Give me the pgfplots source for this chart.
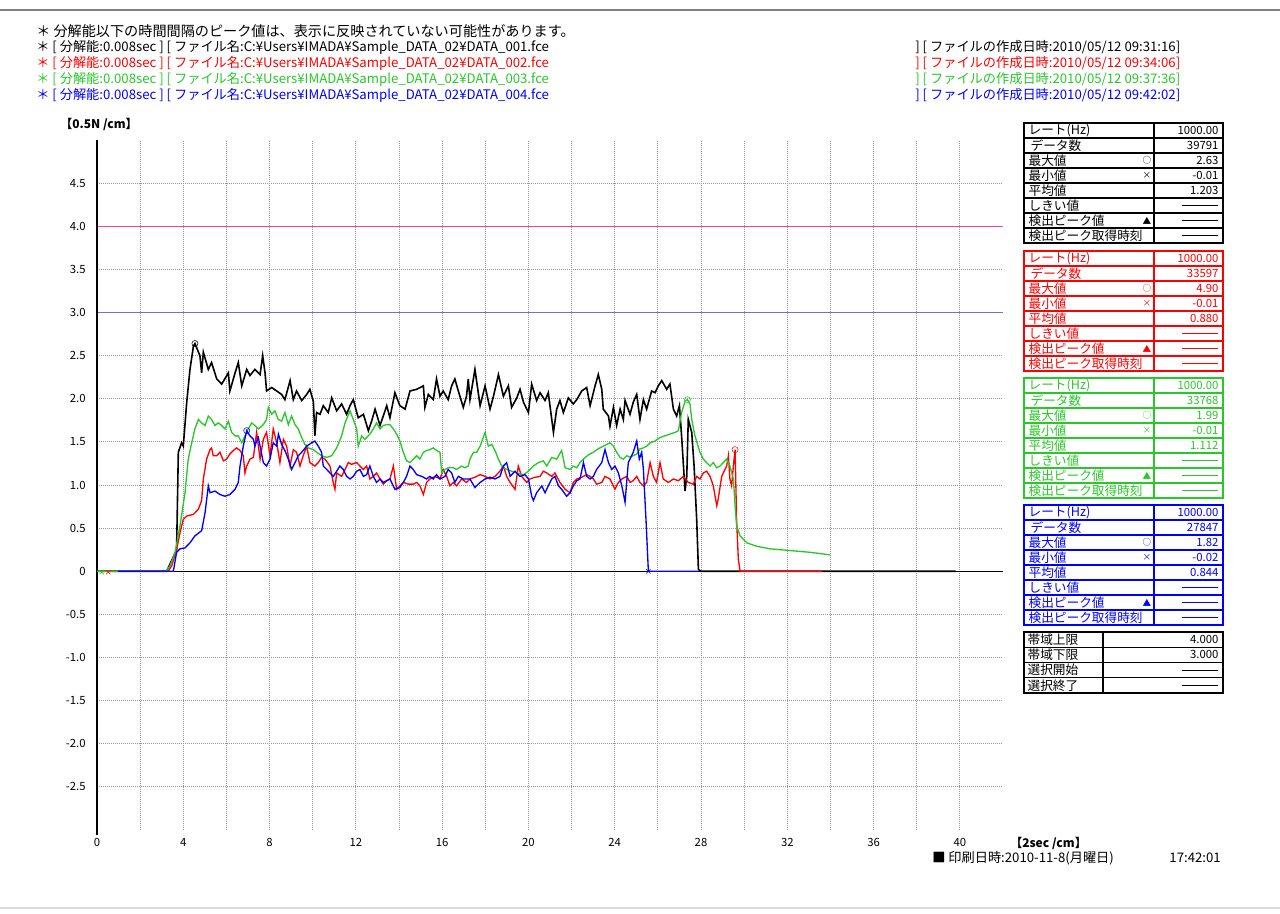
\documentclass[border=0pt]{standalone}
\usepackage{fontspec}
\setmainfont{Noto Sans CJK JP}
\usepackage{pgfplots}
\pgfplotsset{compat=1.18}
\definecolor{cred}{RGB}{255,0,0}
\definecolor{cgreen}{RGB}{40,200,40}
\definecolor{cblue}{RGB}{0,0,255}
\definecolor{bandhi}{RGB}{255,60,170}
\definecolor{bandlo}{RGB}{110,110,220}
\definecolor{gridgray}{RGB}{150,150,150}

\newcommand{\hfont}{\fontsize{9.9pt}{11pt}\selectfont}
\newcommand{\tfont}{\fontsize{9.5pt}{10pt}\selectfont}
\newcommand{\vfont}{\fontsize{8.5pt}{10pt}\selectfont}

% one statistics table: colour, top (px), count, max, min, mean
\newcommand{\datatable}[6]{%
\begin{scope}[draw=#1, text=#1, line width=0.9pt]
  \draw (1024,#2) rectangle (1223,#2+120);
  \foreach \k in {1,...,7} {\draw (1024,#2+15*\k) -- (1223,#2+15*\k);}
  \draw (1154,#2) -- (1154,#2+120);
  \node[tlab] at (1028,#2+7.5) {レート(Hz)};
  \node[tlab] at (1030,#2+22.5) {データ数};
  \node[tlab] at (1028,#2+37.5) {最大値};
  \node[tlab] at (1028,#2+52.5) {最小値};
  \node[tlab] at (1028,#2+67.5) {平均値};
  \node[tlab] at (1028,#2+82.5) {しきい値};
  \node[tlab] at (1028,#2+97.5) {検出ピーク値};
  \node[tlab] at (1028,#2+112.5) {検出ピーク取得時刻};
  \node[sym] at (1147,#2+37.5) {○};
  \node[sym] at (1147,#2+52.5) {×};
  \node[sym] at (1147,#2+97.5) {▲};
  \node[tval] at (1219,#2+7.5) {1000.00};
  \node[tval] at (1219,#2+22.5) {#3};
  \node[tval] at (1219,#2+37.5) {#4};
  \node[tval] at (1219,#2+52.5) {#5};
  \node[tval] at (1219,#2+67.5) {#6};
  \foreach \r in {82.5,97.5,112.5} {\draw[line width=1pt] (1182,#2+\r) -- (1218,#2+\r);}
\end{scope}}

\begin{document}
\begin{tikzpicture}
\begin{scope}[x=0.75pt, y=-0.75pt,
  tlab/.style={anchor=west, inner sep=0pt, font=\tfont},
  tval/.style={anchor=east, inner sep=0pt, font=\vfont},
  sym/.style={inner sep=0pt, font=\fontsize{6.5pt}{7pt}\selectfont}]
  \path[use as bounding box] (0,0) rectangle (1280,913);
  \draw[gray, line width=1.5pt] (0,10) -- (1280,10);
  \draw[gray!30, line width=0.8pt] (0,908) -- (1280,908);

  % header
  \node[anchor=west, inner sep=0pt, font=\fontsize{10.6pt}{12pt}\selectfont] at (36,31) {＊ 分解能以下の時間間隔のピーク値は、表示に反映されていない可能性があります。};
  \foreach \c/\n/\t/\yy in {black/001/09:31:16/47, cred/002/09:34:06/63, cgreen/003/09:37:36/79, cblue/004/09:42:02/95} {
    \node[anchor=west, inner sep=0pt, font=\hfont, text=\c] at (36,\yy) {＊ [ 分解能:0.008sec ] [ ファイル名:C:¥Users¥IMADA¥Sample\_DATA\_02¥DATA\_\n.fce};
    \node[anchor=west, inner sep=0pt, font=\hfont, text=\c] at (915,\yy) {] [ ファイルの作成日時:2010/05/12 \t]};
  }

  % axis unit labels and print date
  \node[anchor=west, inner sep=0pt, font=\fontsize{9pt}{10pt}\selectfont\bfseries] at (60,124) {【0.5N /cm】};
  \node[anchor=west, inner sep=0pt, font=\fontsize{9pt}{10pt}\selectfont\bfseries] at (1010,843) {【2sec /cm】};
  \node[anchor=west, inner sep=0pt, font=\hfont] at (932,858) {■ 印刷日時:2010-11-8(月曜日)};
  \node[anchor=east, inner sep=0pt, font=\hfont] at (1221,858) {17:42:01};

  % statistics tables
  \datatable{black}{123}{39791}{2.63}{-0.01}{1.203}
  \datatable{cred}{251}{33597}{4.90}{-0.01}{0.880}
  \datatable{cgreen}{378}{33768}{1.99}{-0.01}{1.112}
  \datatable{cblue}{505}{27847}{1.82}{-0.02}{0.844}
  \begin{scope}[line width=0.9pt]
    \draw (1024,632) rectangle (1223,693);
    \foreach \k in {1,2,3} {\draw (1024,632+15.25*\k) -- (1223,632+15.25*\k);}
    \draw (1103,632) -- (1103,693);
    \node[tlab] at (1027,639.6) {帯域上限};
    \node[tlab] at (1027,654.9) {帯域下限};
    \node[tlab] at (1027,670.1) {選択開始};
    \node[tlab] at (1027,685.4) {選択終了};
    \node[tval] at (1219,639.6) {4.000};
    \node[tval] at (1219,654.9) {3.000};
    \draw (1182,670.1) -- (1218,670.1);
    \draw (1182,685.4) -- (1218,685.4);
  \end{scope}
\end{scope}

\begin{axis}[
  at={(72.75pt,-622.5pt)}, anchor=south west,
  scale only axis, width=679.5pt, height=517.5pt,
  xmin=0, xmax=42, ymin=-3, ymax=5,
  axis line style={draw=none},
  major tick length=0pt,
  xtick={0,2,...,40},
  xticklabels={0,,4,,8,,12,,16,,20,,24,,28,,32,,36,,40},
  ytick={-2.5,-2,...,4.5},
  yticklabels={-2.5,-2.0,-1.5,-1.0,-0.5,0,0.5,1.0,1.5,2.0,2.5,3.0,3.5,4.0,4.5},
  grid=major,
  major grid style={gridgray, line width=0.6pt, dash pattern=on 0.75pt off 0.75pt},
  /pgf/number format/assume math mode=true,
  ticklabel style={font=\fontsize{8.5pt}{9pt}\selectfont},
  yticklabel style={xshift=-5pt},
  xticklabel style={yshift=-3pt},
  clip=false,
]
% band limits and zero line
\addplot[bandhi, line width=0.8pt] coordinates {(0,4) (42,4)};
\addplot[bandlo, line width=0.8pt] coordinates {(0,3) (42,3)};
\addplot[black, line width=1pt] coordinates {(0,-3.06) (0,5)};
\addplot[black, line width=1pt] coordinates {(0,0) (42,0)};

% DATA_001
\addplot[black, line width=1.2pt] coordinates {
(0,0) (3.23,0) (3.69,0.25) (3.77,1.38) (3.92,1.49) (4.0,1.45) (4.16,1.96) (4.31,2.34) (4.47,2.61) (4.54,2.64)
(4.77,2.50) (4.85,2.30) (4.93,2.54) (5.16,2.34) (5.31,2.42) (5.55,2.23) (5.78,2.17) (6.09,2.30) (6.16,2.09)
(6.40,2.30) (6.55,2.42) (6.71,2.15) (6.94,2.34) (7.09,2.27) (7.32,2.34) (7.56,2.28) (7.68,2.50) (7.79,2.30)
(7.86,2.09) (8.10,2.13) (8.33,2.09) (8.56,2.05) (8.71,1.99) (8.95,2.21) (9.10,1.99) (9.25,2.09) (9.49,1.98)
(9.72,2.05) (9.87,2.11) (10.03,1.97) (10.10,1.57) (10.18,1.84) (10.34,1.82) (10.49,1.92) (10.72,1.84)
(10.88,2.01) (11.11,1.86) (11.34,1.94) (11.57,1.82) (11.73,1.92) (11.88,1.99) (12.11,1.78) (12.35,1.82)
(12.58,1.63) (12.73,1.74) (12.89,1.88) (13.12,1.69) (13.27,1.80) (13.43,1.92) (13.58,1.78) (13.81,2.07)
(14.04,1.92) (14.28,1.88) (14.51,2.09) (14.82,2.11) (15.13,2.15) (15.20,1.90) (15.36,2.05) (15.59,1.99)
(15.74,2.23) (15.90,2.03) (16.05,2.09) (16.28,1.99) (16.44,2.15) (16.59,2.23) (16.75,2.09) (16.98,1.90)
(17.13,2.03) (17.21,2.23) (17.29,1.99) (17.52,2.34) (17.76,1.92) (17.99,2.15) (18.22,1.88) (18.38,2.03)
(18.61,2.28) (18.84,2.03) (19.07,2.15) (19.22,1.90) (19.46,2.01) (19.61,2.11) (19.77,1.96) (20.00,1.84)
(20.15,2.17) (20.38,1.98) (20.54,2.07) (20.77,1.98) (20.92,2.07) (21.16,1.61) (21.31,1.88) (21.46,1.98)
(21.62,1.84) (21.85,2.01) (22.08,1.94) (22.24,1.99) (22.47,2.09) (22.70,2.13) (22.86,1.92) (23.09,2.15)
(23.24,2.28) (23.40,2.11) (23.47,1.88) (23.71,1.80) (23.78,1.68) (23.94,1.90) (24.09,1.69) (24.25,1.88)
(24.40,1.76) (24.48,1.98) (24.71,1.82) (24.86,1.96) (25.02,2.05) (25.17,1.76) (25.33,1.99) (25.48,1.88)
(25.71,2.09) (25.87,2.07) (26.02,2.15) (26.18,2.21) (26.41,2.11) (26.56,2.17) (26.72,1.88) (26.87,1.80)
(27.00,1.92) (27.10,1.57) (27.26,0.93) (27.34,1.10) (27.41,1.76) (27.57,1.61) (27.68,1.22) (27.80,0.60)
(27.88,0.02) (28.0,0) (39.8,0)
};
% DATA_002
\addplot[cred, line width=1pt] coordinates {
(0,0) (3.3,0) (3.46,0.06) (3.69,0.25) (3.85,0.45) (4.0,0.60) (4.16,0.64) (4.47,0.66) (4.70,0.72) (4.85,0.82)
(4.93,1.07) (5.08,1.30) (5.24,1.41) (5.31,1.43) (5.39,1.34) (5.55,1.34) (5.70,1.38) (5.86,1.28) (6.01,1.30)
(6.16,1.36) (6.32,1.40) (6.47,1.43) (6.63,1.40) (6.78,1.34) (6.86,1.14) (6.94,1.22) (7.09,1.30) (7.25,1.32)
(7.40,1.61) (7.56,1.30) (7.71,1.53) (7.86,1.61) (8.02,1.34) (8.17,1.65) (8.33,1.49) (8.48,1.26) (8.64,1.53)
(8.79,1.45) (8.95,1.22) (9.10,1.41) (9.25,1.38) (9.41,1.22) (9.56,1.34) (9.72,1.45) (9.87,1.26) (10.10,1.22)
(10.26,1.26) (10.41,1.32) (10.57,1.30) (10.80,1.22) (10.95,1.03) (11.03,0.95) (11.11,1.14) (11.34,1.10)
(11.50,1.18) (11.65,1.26) (11.80,1.24) (12.04,1.26) (12.19,1.22) (12.35,1.18) (12.50,1.22) (12.65,1.07)
(12.81,1.10) (12.96,1.14) (13.12,1.07) (13.27,1.01) (13.43,1.05) (13.58,1.07) (13.74,1.22) (13.89,0.95)
(14.04,0.99) (14.20,1.03) (14.43,1.01) (14.66,1.01) (14.82,1.03) (14.97,0.99) (15.13,0.89) (15.28,1.03)
(15.43,1.07) (15.67,1.10) (15.90,1.07) (16.05,1.18) (16.21,1.10) (16.36,0.99) (16.52,1.03) (16.67,0.99)
(16.90,1.07) (17.13,1.03) (17.29,1.07) (17.52,1.09) (17.76,1.12) (17.99,1.10) (18.22,1.07) (18.45,1.10)
(18.68,1.16) (18.84,1.22) (18.99,1.10) (19.15,1.03) (19.38,0.95) (19.53,1.22) (19.69,1.10) (19.92,1.03)
(20.07,1.07) (20.31,1.09) (20.54,1.10) (20.69,1.16) (20.85,1.14) (21.08,1.10) (21.23,1.14) (21.46,1.03)
(21.70,0.95) (21.93,0.91) (22.08,1.03) (22.24,1.07) (22.47,1.09) (22.70,1.12) (22.86,1.10) (23.01,1.07)
(23.16,1.01) (23.40,1.03) (23.55,1.10) (23.78,1.07) (24.01,0.95) (24.17,1.03) (24.33,1.07) (24.56,1.10)
(24.71,1.03) (24.86,1.05) (25.02,1.10) (25.17,1.03) (25.33,0.99) (25.48,1.03) (25.64,1.26) (25.79,1.10)
(25.94,1.03) (26.10,1.26) (26.25,1.07) (26.49,1.03) (26.72,1.07) (26.95,1.05) (27.18,1.10) (27.41,1.03)
(27.64,1.01) (27.80,1.10) (27.95,1.07) (28.11,1.14) (28.26,1.16) (28.42,1.10) (28.57,0.99) (28.73,0.76)
(28.80,0.84) (28.96,1.10) (29.19,1.22) (29.27,1.34) (29.34,1.07) (29.42,0.99) (29.50,1.22) (29.58,1.41)
(29.65,0.60) (29.73,0.14) (29.81,0) (33.6,0)
};
% DATA_003
\addplot[cgreen, line width=1pt] coordinates {
(0,0) (3.2,0) (3.38,0.06) (3.62,0.22) (3.85,0.53) (4.08,0.91) (4.23,1.30) (4.39,1.49) (4.54,1.65) (4.70,1.76)
(4.85,1.72) (5.01,1.69) (5.16,1.80) (5.31,1.76) (5.47,1.69) (5.62,1.72) (5.78,1.69) (5.93,1.65) (6.09,1.74)
(6.24,1.61) (6.40,1.57) (6.55,1.57) (6.71,1.49) (6.86,1.57) (7.01,1.65) (7.17,1.72) (7.32,1.69) (7.48,1.65)
(7.71,1.70) (7.86,1.76) (7.94,1.90) (8.10,1.82) (8.25,1.86) (8.40,1.76) (8.56,1.74) (8.71,1.84) (8.87,1.70)
(9.02,1.80) (9.18,1.70) (9.33,1.65) (9.49,1.55) (9.64,1.47) (9.80,1.43) (10.03,1.41) (10.18,1.38)
(10.41,1.34) (10.65,1.32) (10.88,1.34) (11.11,1.43) (11.34,1.57) (11.50,1.72) (11.73,1.86) (11.88,1.76)
(12.04,1.65) (12.11,1.45) (12.27,1.57) (12.42,1.53) (12.65,1.59) (12.81,1.65) (12.96,1.72) (13.12,1.65)
(13.27,1.69) (13.43,1.70) (13.58,1.70) (13.74,1.65) (13.89,1.59) (14.04,1.51) (14.20,1.38) (14.35,1.28)
(14.51,1.26) (14.66,1.30) (14.82,1.34) (14.97,1.30) (15.13,1.38) (15.28,1.40) (15.43,1.41) (15.59,1.43)
(15.74,1.40) (15.90,1.38) (15.98,1.14) (16.13,1.18) (16.28,1.20) (16.52,1.20) (16.67,1.18) (16.90,1.22)
(17.06,1.20) (17.21,1.22) (17.29,1.30) (17.45,1.38) (17.60,1.38) (17.76,1.45) (17.99,1.61) (18.14,1.45)
(18.30,1.47) (18.45,1.40) (18.61,1.30) (18.76,1.22) (18.99,1.18) (19.22,1.16) (19.46,1.14) (19.77,1.12)
(20.00,1.16) (20.23,1.22) (20.46,1.26) (20.69,1.28) (20.85,1.22) (21.08,1.32) (21.31,1.30) (21.54,1.40)
(21.70,1.20) (21.93,1.18) (22.08,1.22) (22.24,1.20) (22.39,1.26) (22.55,1.30) (22.78,1.35) (23.01,1.38)
(23.24,1.42) (23.47,1.45) (23.63,1.47) (23.78,1.49) (23.94,1.45) (24.09,1.38) (24.25,1.32) (24.40,1.30)
(24.56,1.34) (24.71,1.32) (24.86,1.34) (25.02,1.36) (25.17,1.42) (25.33,1.43) (25.48,1.45) (25.64,1.49)
(25.87,1.51) (26.10,1.55) (26.33,1.57) (26.56,1.59) (26.80,1.61) (26.95,1.63) (27.10,1.84) (27.26,1.97)
(27.37,1.99) (27.49,1.94) (27.57,1.76) (27.72,1.57) (27.95,1.38) (28.11,1.30) (28.26,1.26) (28.42,1.22)
(28.57,1.26) (28.73,1.20) (28.88,1.22) (29.03,1.26) (29.19,1.30) (29.34,1.22) (29.50,1.07) (29.58,0.76)
(29.65,0.53) (29.81,0.41) (30.12,0.33) (30.58,0.29) (31.20,0.26) (32.13,0.24) (33.05,0.22) (33.98,0.19)
};
% DATA_004
\addplot[cblue, line width=1pt] coordinates {
(0.97,0) (3.54,0) (3.69,0.22) (3.85,0.26) (4.08,0.27) (4.31,0.33) (4.54,0.41) (4.85,0.47) (5.01,0.68)
(5.16,0.99) (5.24,0.91) (5.47,0.93) (5.70,0.89) (5.93,0.87) (6.16,0.89) (6.40,0.95) (6.55,1.03) (6.63,1.22)
(6.78,1.45) (6.94,1.63) (7.09,1.57) (7.25,1.53) (7.32,1.45) (7.40,1.51) (7.48,1.55) (7.56,1.45) (7.71,1.26)
(7.86,1.22) (8.02,1.30) (8.17,1.49) (8.33,1.45) (8.41,1.59) (8.56,1.47) (8.71,1.40) (8.87,1.30) (9.02,1.18)
(9.18,1.26) (9.33,1.34) (9.49,1.38) (9.72,1.45) (9.95,1.49) (10.10,1.51) (10.26,1.45) (10.41,1.38)
(10.49,1.22) (10.65,1.18) (10.80,1.14) (10.95,1.10) (11.11,1.16) (11.26,1.22) (11.42,1.18) (11.57,1.10)
(11.73,1.07) (11.88,1.10) (12.04,1.16) (12.19,1.18) (12.35,1.10) (12.50,1.12) (12.65,1.22) (12.81,1.10)
(12.96,1.03) (13.12,1.07) (13.27,1.03) (13.43,1.05) (13.58,1.07) (13.81,0.95) (14.04,0.97) (14.20,1.03)
(14.35,1.10) (14.51,1.22) (14.66,1.18) (14.82,1.12) (15.05,1.10) (15.28,1.07) (15.43,1.10) (15.59,1.07)
(15.74,1.12) (15.90,1.07) (16.13,1.10) (16.28,1.18) (16.44,1.14) (16.59,1.03) (16.75,1.10) (16.98,1.07)
(17.21,1.07) (17.29,1.07) (17.52,0.97) (17.76,1.03) (17.99,1.07) (18.22,1.09) (18.45,1.07) (18.68,1.10)
(18.84,1.22) (18.99,1.26) (19.15,1.10) (19.38,1.16) (19.61,1.10) (19.84,1.12) (20.00,1.07) (20.15,0.87)
(20.23,0.82) (20.38,0.91) (20.62,0.99) (20.77,0.91) (20.92,0.99) (21.08,1.07) (21.23,1.10) (21.39,0.99)
(21.54,0.95) (21.77,0.87) (21.93,0.91) (22.08,0.99) (22.24,1.05) (22.39,1.07) (22.55,1.26) (22.70,1.10)
(22.86,1.07) (23.01,1.10) (23.16,1.18) (23.40,1.26) (23.55,1.41) (23.71,1.26) (23.86,1.18) (24.01,1.22)
(24.17,1.14) (24.33,0.99) (24.48,0.80) (24.63,1.26) (24.86,1.38) (25.02,1.51) (25.14,1.30) (25.25,1.38)
(25.33,1.18) (25.45,0.60) (25.56,0) (27.85,0)
};

% max / min markers
\addplot[only marks, mark=o, mark size=2.3pt, black, thin] coordinates {(4.54,2.64)};
\addplot[only marks, mark=o, mark size=2.3pt, cred, thin] coordinates {(29.58,1.41)};
\addplot[only marks, mark=x, mark size=2.3pt, cred, thin] coordinates {(0.53,-0.01)};
\addplot[only marks, mark=o, mark size=2.3pt, cgreen, thin] coordinates {(27.37,1.99)};
\addplot[only marks, mark=x, mark size=2.3pt, cgreen, thin] coordinates {(0.22,-0.01)};
\addplot[only marks, mark=o, mark size=2.3pt, cblue, thin] coordinates {(6.94,1.63)};
\addplot[only marks, mark=x, mark size=2.3pt, cblue, thin] coordinates {(25.56,0)};
\end{axis}
\end{tikzpicture}
\end{document}
